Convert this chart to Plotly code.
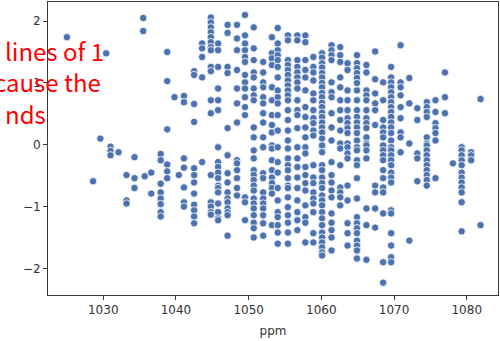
import plotly.graph_objects as go

# Column positions (ppm) and the values read in each column
column_ppm = [
    1025.0, 1028.6, 1029.6, 1030.4, 1031.0, 1032.1, 1033.2, 1034.3, 1035.5, 1035.7,
    1036.6, 1037.9, 1038.8, 1039.8, 1040.4, 1041.1, 1042.5, 1043.6, 1044.8, 1045.8,
    1047.1, 1048.4, 1049.5, 1050.7, 1052.0, 1053.2, 1054.0, 1055.4, 1056.7, 1057.8,
    1058.9, 1060.1, 1061.4, 1062.6, 1063.6, 1064.9, 1066.2, 1067.4, 1068.5, 1069.6,
    1070.9, 1072.1, 1073.2, 1074.5, 1075.7, 1077.0, 1078.1, 1079.3, 1080.6, 1081.9,
]

values_by_column = [
    [1.74],
    [-0.59],
    [0.10],
    [1.48],
    [-0.03, -0.10, -0.17],
    [-0.12],
    [-0.49, -0.90, -0.95],
    [-0.20, -0.54, -0.70],
    [2.05, 1.84],
    [-0.51],
    [-0.45, -0.79],
    [-0.15, -0.25, -0.63, -0.77, -0.87, -0.96, -1.09, -1.16],
    [1.50, 1.03, 0.25, -0.32, -0.43, -0.54],
    [0.77],
    [-0.49],
    [0.79, 0.69, -0.22, -0.37, -0.69, -0.93, -1.00],
    [1.19, 1.13, 0.66, 0.37, -0.38, -0.49, -0.61, -0.79, -0.97, -1.06, -1.16, -1.27],
    [1.64, 1.56, 1.42, 1.09, -0.28],
    [2.06, 1.98, 1.90, 1.82, 1.74, 1.66, 1.58, 1.53, 1.26, 1.19, 0.72, 0.51,
     -0.49, -0.93, -1.00, -1.09, -1.13],
    [1.64, 1.53, 1.26, 0.91, 0.72, 0.56, -0.04, -0.28, -0.36, -0.45, -0.54, -0.66,
     -0.70, -0.77, -0.95, -1.09, -1.19, -1.22],
    [1.94, 1.81, 1.26, 1.16, 0.27, -0.17, -0.46, -0.61, -0.77, -0.87, -0.93, -1.03,
     -1.09, -1.14, -1.47],
    [1.94, 1.72, 1.53, 1.21, 0.91, 0.67, 0.36, -0.25, -0.30, -0.41, -0.54, -0.70, -0.82],
    [2.10, 1.77, 1.64, 1.53, 1.42, 1.34, 1.13, 1.01, 0.91, 0.77, 0.61, 0.48,
     -0.85, -0.93, -1.22],
    [1.90, 1.56, 1.37, 1.17, 1.09, 0.91, 0.80, 0.72, 0.28, 0.12, -0.09, -0.22, -0.41,
     -0.49, -0.57, -0.66, -0.74, -0.87, -0.95, -1.03, -1.14, -1.26, -1.35, -1.50],
    [1.34, 1.17, 1.01, 0.93, 0.77, 0.67, 0.51, 0.36, 0.12, -0.04, -0.46, -0.54, -0.77,
     -0.87, -0.95, -1.03, -1.14, -1.27, -1.47],
    [1.74, 1.48, 1.40, 1.29, 0.93, 0.72, 0.48, 0.32, 0.20, -0.01, -0.06, -0.25, -0.41,
     -0.53, -0.62, -0.70, -0.79, -1.30],
    [1.89, 1.64, 1.53, 1.45, 1.37, 1.26, 1.09, 0.88, 0.77, 0.67, 0.48, 0.23, -0.04,
     -0.28, -0.45, -0.70, -0.90, -1.09, -1.17, -1.30, -1.42, -1.60],
    [1.77, 1.69, 1.37, 1.29, 1.21, 1.13, 1.04, 0.96, 0.88, 0.80, 0.72, 0.56, 0.40,
     0.23, 0.07, -0.06, -0.22, -0.33, -0.41, -0.54, -0.66, -0.70, -0.85, -1.01, -1.14,
     -1.26, -1.42, -1.60],
    [1.77, 1.69, 1.37, 1.26, 1.17, 1.09, 1.01, 0.91, 0.72, 0.56, 0.48, 0.27, -0.04,
     -0.22, -0.36, -0.53, -0.70, -0.90, -1.09, -1.22, -1.38],
    [1.77, 1.66, 1.37, 1.21, 1.09, 0.88, 0.61, 0.45, 0.28, 0.12, -0.04, -0.14, -0.36,
     -0.49, -0.62, -0.74, -0.98, -1.17, -1.26, -1.58],
    [1.42, 1.26, 1.17, 1.04, 0.83, 0.72, 0.56, 0.43, 0.35, 0.23, 0.15, -0.33, -0.53,
     -0.62, -0.77, -0.87, -0.95, -1.09, -1.43, -1.58],
    [1.48, 1.41, 1.32, 1.25, 1.16, 1.09, 1.00, 0.93, 0.84, 0.77, 0.68, 0.61, 0.52,
     0.45, 0.36, 0.28, 0.20, 0.10, -0.04, -0.01, -0.12, -0.33, -0.41, -0.53, -0.62,
     -0.70, -0.82, -0.90, -0.98, -1.09, -1.19, -1.30, -1.42, -1.50, -1.58, -1.66,
     -1.74, -1.79],
    [1.61, 1.53, 1.45, 1.37, 1.01, 0.85, 0.77, 0.51, 0.28, 0.07, -0.28, -0.49, -0.61,
     -0.74, -0.85, -1.11, -1.26, -1.38, -1.50, -1.71],
    [1.58, 1.45, 1.34, 1.09, 0.93, 0.72, 0.56, 0.40, 0.23, 0.02, -0.06, -0.33, -0.69,
     -0.77, -0.85, -0.98],
    [1.32, 1.21, 0.88, 0.72, 0.56, 0.43, 0.35, 0.27, 0.19, 0.02, -0.04, -0.14, -0.22,
     -0.66, -0.90, -1.27, -1.43, -1.63],
    [1.45, 1.32, 1.24, 1.16, 1.08, 1.00, 0.88, 0.72, 0.56, 0.45, 0.36, 0.28, 0.19,
     0.07, -0.04, -0.09, -0.25, -0.33, -0.54, -0.87, -1.17, -1.27, -1.35, -1.43,
     -1.55, -1.63, -1.71, -1.84],
    [1.29, 1.17, 0.88, 0.80, 0.72, 0.56, 0.43, 0.35, 0.27, 0.12, 0.02, -0.01, -0.09,
     -0.22, -1.03, -1.30, -1.86],
    [1.51, 1.06, 0.83, 0.67, 0.56, 0.32, -0.66, -0.77, -1.03, -1.34],
    [1.01, 0.72, 0.40, 0.28, 0.20, 0.12, -0.04, -0.01, -0.09, -0.17, -0.25, -0.41,
     -0.54, -0.69, -0.77, -1.11, -1.90, -2.23],
    [1.26, 1.09, 1.01, 0.93, 0.85, 0.77, 0.69, 0.61, 0.53, 0.45, 0.36, 0.28, 0.19,
     0.07, -0.04, -0.09, -0.17, -0.25, -0.33, -0.45, -0.53, -0.61, -1.06, -1.11,
     -1.43, -1.63, -1.82, -1.90],
    [1.61, 1.01, 0.93, 0.80, 0.61, 0.43, 0.20, 0.12, -0.12],
    [1.08, 0.67, 0.02, -1.55],
    [0.59, 0.40, -0.14, -0.22, -0.59],
    [0.69, 0.61, 0.53, 0.45, 0.12, 0.02, -0.01, -0.09, -0.17, -0.25, -0.33, -0.41,
     -0.49, -0.57, -0.66],
    [0.72, 0.53, 0.35, 0.27, 0.19, 0.07, -0.54],
    [1.17, 0.77, 0.51],
    [-0.30],
    [-0.04, -0.09, -0.17, -0.25, -0.33, -0.45, -0.53, -0.61, -0.69, -0.77, -0.93, -1.40],
    [-0.12, -0.17, -0.25],
    [0.74, -1.30],
]

x_tick_values = [1030, 1040, 1050, 1060, 1070, 1080]
y_tick_values = [-2, -1, 0, 1, 2]
overlay_lines = ["lines of 1", "cause the", "nds"]

ppm = []
value = []
for cx, ys in zip(column_ppm, values_by_column):
    for yv in ys:
        ppm.append(cx)
        value.append(yv)

fig = go.Figure()
fig.add_trace(go.Scatter(
    x=ppm, y=value, mode="markers",
    marker=dict(size=7.4, color="#4c72b0", line=dict(color="white", width=0.8)),
    showlegend=False, cliponaxis=False,
))

axis_common = dict(
    showgrid=False, zeroline=False, showline=True, linecolor="#3a3a3a", linewidth=1,
    mirror=True, ticks="outside", ticklen=4, tickwidth=1, tickcolor="#3a3a3a",
    tickfont=dict(family="DejaVu Sans", size=12, color="#333333"), automargin=False,
)

fig.update_layout(
    width=500, height=341, autosize=False,
    margin=dict(l=48, r=2, t=2, b=46, pad=0),
    paper_bgcolor="white", plot_bgcolor="white",
    xaxis=dict(range=[1022.4, 1084.3], tickvals=x_tick_values,
               title=dict(text="ppm", font=dict(family="DejaVu Sans", size=12, color="#333333"),
                          standoff=10),
               **axis_common),
    yaxis=dict(range=[-2.43, 2.31], tickvals=y_tick_values, **axis_common),
)

line_pos = [(-0.099, 0.836), (-0.124, 0.727), (-0.101, 0.621)]
for txt, (ax_, ay_) in zip(overlay_lines, line_pos):
    fig.add_annotation(
        text=txt, xref="paper", yref="paper", x=ax_, y=ay_,
        xanchor="left", yanchor="middle", showarrow=False,
        font=dict(family="Noto Sans CJK SC", size=24, color="#ff0000"),
    )

fig.write_html("out.html", config={"responsive": False, "displayModeBar": False})

with open("out.html", "r", encoding="utf-8") as fh:
    page = fh.read()
page = page.replace(
    "<head>",
    "<head><style>html,body{margin:0;padding:0;overflow:hidden;}</style>",
    1,
)
with open("out.html", "w", encoding="utf-8") as fh:
    fh.write(page)
